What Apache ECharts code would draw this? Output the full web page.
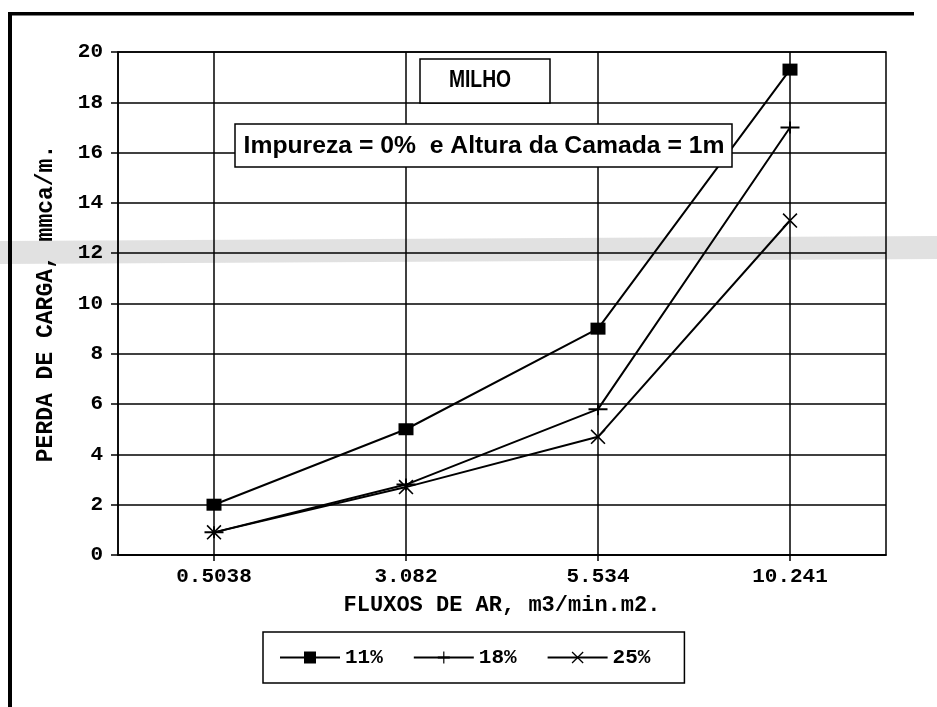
<!DOCTYPE html>
<html>
<head>
<meta charset="utf-8">
<script src="https://cdn.jsdelivr.net/npm/echarts@6/dist/echarts.min.js"></script>
<style>
html, body { margin: 0; padding: 0; background: #fff; }
#mycharts { width: 937px; height: 707px; }
</style>
</head>
<body>
<div id="mycharts"></div>
<script>
// dados
const fluxos = ["0.5038", "3.082", "5.534", "10.241"];
const perda11 = [2.0, 5.0, 9.0, 19.3];
const perda18 = [0.9, 2.8, 5.8, 17.0];
const perda25 = [0.9, 2.7, 4.7, 13.3];
const nomes = ["11%", "18%", "25%"];
const yMin = 0, yMax = 20, yStep = 2;

const mono = "Liberation Mono";
const sans = "Liberation Sans";

const plusPath = "path://M0,5L9,5L9,0L11,0L11,5L20,5L20,7L11,7L11,12L9,12L9,7L0,7Z";
const crossPath = "path://M0,1.5L1.5,0L10,8.5L18.5,0L20,1.5L11.5,10L20,18.5L18.5,20L10,11.5L1.5,20L0,18.5L8.5,10Z";

function serie(name, data, symbol, size) {
  return {
    name: name,
    type: "line",
    data: data,
    symbol: symbol,
    symbolSize: size,
    showAllSymbol: true,
    lineStyle: { color: "#000", width: 2 },
    itemStyle: { color: "#000" },
    emphasis: { disabled: true },
    z: 5
  };
}

const charts = echarts.init(document.getElementById("mycharts"));
const option = {
  backgroundColor: "#fff",
  animation: false,
  grid: {
    left: 118, right: 51, top: 52, bottom: 152,
    show: true, borderColor: "#000", borderWidth: 1.5
  },
  xAxis: {
    type: "category",
    data: fluxos,
    boundaryGap: true,
    name: "FLUXOS DE AR, m3/min.m2.",
    nameLocation: "middle",
    nameGap: 39,
    nameTextStyle: { fontFamily: mono, fontWeight: "bold", fontSize: 22, color: "#000" },
    axisLine: { lineStyle: { color: "#000", width: 1.5 } },
    axisTick: { show: true, alignWithLabel: true, length: 6, lineStyle: { color: "#000", width: 1.5 } },
    axisLabel: { fontFamily: mono, fontWeight: "bold", fontSize: 21, color: "#000", margin: 11 },
    splitLine: { show: true, alignWithLabel: true, lineStyle: { color: "#000", width: 1.5 } }
  },
  yAxis: {
    type: "value",
    min: yMin, max: yMax, interval: yStep,
    name: "PERDA DE CARGA, mmca/m.",
    nameLocation: "middle",
    nameGap: 60,
    nameRotate: 90,
    nameTextStyle: { fontFamily: mono, fontWeight: "bold", fontSize: 23, color: "#000" },
    axisLine: { show: true, lineStyle: { color: "#000", width: 1.5 } },
    axisTick: { show: true, length: 7, lineStyle: { color: "#000", width: 1.5 } },
    axisLabel: { fontFamily: mono, fontWeight: "bold", fontSize: 21, color: "#000", margin: 15 },
    splitLine: { show: true, lineStyle: { color: "#000", width: 1.5 } }
  },
  legend: {
    left: 263, top: 632,
    data: nomes,
    orient: "horizontal",
    itemWidth: 60, itemHeight: 15, itemGap: 30,
    padding: [15, 34, 15, 16],
    borderColor: "#000", borderWidth: 1.5,
    textStyle: { fontFamily: mono, fontWeight: "bold", fontSize: 21, color: "#000" },
    selectedMode: false
  },
  graphic: [
    // faixa cinza do escaneamento
    {
      type: "polygon", silent: true, z: -10,
      shape: { points: [[0, 241], [937, 236], [937, 259], [0, 264]] },
      style: { fill: "#d4d4d4", opacity: 0.7 }
    },
    // moldura
    { type: "rect", silent: true, shape: { x: 8, y: 12, width: 906, height: 3.5 }, style: { fill: "#000" } },
    { type: "rect", silent: true, shape: { x: 8, y: 12, width: 4, height: 700 }, style: { fill: "#000" } },
    // caixas de texto
    {
      type: "rect", z: 20,
      shape: { x: 420, y: 59, width: 130, height: 44 },
      style: { fill: "#fff", stroke: "#000", lineWidth: 1.5 }
    },
    {
      type: "text", z: 21, x: 480, y: 81, scaleX: 0.84,
      style: { text: "MILHO", font: "bold 23px " + sans, fill: "#000", textAlign: "center", textVerticalAlign: "middle" }
    },
    {
      type: "rect", z: 20,
      shape: { x: 235, y: 124, width: 497, height: 43 },
      style: { fill: "#fff", stroke: "#000", lineWidth: 1.5 }
    },
    {
      type: "text", z: 21, x: 484, y: 146, scaleX: 1.03,
      style: { text: "Impureza = 0%  e Altura da Camada = 1m", font: "bold 24px " + sans, fill: "#000", textAlign: "center", textVerticalAlign: "middle" }
    }
  ],
  series: [
    serie(nomes[0], perda11, "rect", [15, 12]),
    serie(nomes[1], perda18, plusPath, [19, 12]),
    serie(nomes[2], perda25, crossPath, [15, 15])
  ]
};
charts.setOption(option);
</script>
</body>
</html>
